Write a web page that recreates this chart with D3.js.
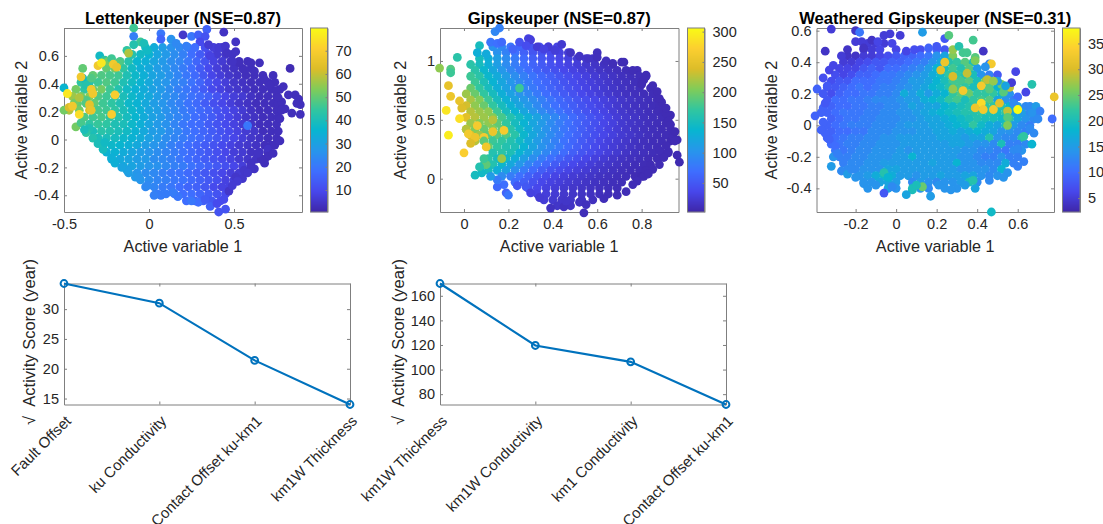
<!DOCTYPE html>
<html>
<head>
<meta charset="utf-8">
<script src="https://cdn.jsdelivr.net/npm/d3@7"></script>
<style>
  html, body { margin: 0; padding: 0; background: #fff; overflow: hidden; }
  text { font-family: "Liberation Sans", Arial, sans-serif; fill: #262626; }
</style>
</head>
<body>
<script>
// Scan rows: [y, x, score, x, score, ...]. Edge lists: [x, y, score].
var lettenRows = [
  [66, -2,38, 3,33, 8,29, 13,26, 18,24, 23,20, 33,11, 38,7, 43,5],
  [61, -10,42, -5,38, 0,35, 5,31, 10,28, 15,25, 20,22, 25,18, 30,14, 35,10, 40,6, 45,5, 49,4],
  [56, -17,47, -12,42, -7,36, -2,34, 3,31, 8,28, 13,25, 18,23, 23,20, 28,16, 33,12, 38,8, 43,6, 48,4, 53,3],
  [51, -25,50, -20,52, -15,44, -10,38, -5,34, 0,32, 5,29, 10,27, 15,24, 20,21, 25,18, 30,14, 35,10, 40,7, 45,5, 50,4, 55,3, 60,3],
  [46, -33,50, -28,48, -23,47, -18,46, -13,41, -8,37, -3,34, 2,31, 7,29, 12,26, 17,23, 22,20, 27,17, 32,13, 37,9, 42,7, 47,5, 52,4, 57,3, 62,3, 67,3],
  [41, -40,44, -35,42, -30,46, -25,48, -20,46, -15,41, -10,38, -5,35, 0,32, 5,29, 10,27, 15,24, 20,22, 25,19, 30,16, 35,12, 40,9, 45,7, 50,5, 55,4, 60,3, 65,3, 70,3, 74,3],
  [36, -43,52, -38,44, -33,50, -28,52, -23,46, -18,42, -13,38, -8,35, -3,33, 2,30, 7,28, 12,25, 17,22, 22,20, 27,17, 32,14, 37,10, 42,8, 47,6, 52,5, 57,4, 62,3, 67,3, 72,3, 77,3],
  [31, -45,56, -40,52, -35,54, -30,48, -25,46, -20,44, -15,40, -10,37, -5,34, 0,32, 5,29, 10,26, 15,24, 20,21, 25,19, 30,17, 35,15, 40,12, 45,9, 50,7, 55,6, 60,4, 65,3, 70,3, 75,3],
  [26, -42,50, -37,48, -32,50, -27,46, -22,44, -17,41, -12,37, -7,35, -2,32, 3,29, 8,27, 13,24, 18,22, 23,19, 28,17, 33,14, 38,11, 43,9, 48,7, 53,5, 58,4, 63,3, 68,3, 73,3, 76,3],
  [21, -47,58, -41,52, -35,62, -30,47, -25,46, -20,44, -15,40, -10,37, -5,34, 0,31, 5,29, 10,26, 15,24, 20,21, 25,19, 30,17, 35,15, 40,12, 45,10, 50,8, 55,6, 60,4, 65,3, 70,3, 75,3],
  [16, -38,48, -33,46, -28,47, -23,44, -18,42, -13,39, -8,36, -3,33, 2,30, 7,28, 12,25, 17,23, 22,21, 27,18, 32,16, 37,14, 42,11, 47,9, 52,7, 57,5, 62,4, 67,3, 72,3, 76,3],
  [11, -35,44, -30,45, -25,44, -20,41, -15,40, -10,37, -5,34, 0,31, 5,28, 10,26, 15,23, 20,20, 25,18, 30,17, 35,14, 40,12, 45,10, 50,8, 55,6, 60,4, 65,3, 70,3, 75,3],
  [6, -33,40, -28,43, -23,42, -18,40, -13,38, -8,35, -3,32, 2,29, 7,28, 12,25, 17,23, 22,20, 27,18, 32,16, 37,14, 42,12, 47,10, 52,8, 57,6, 62,5, 67,3, 72,3, 76,3],
  [1, -30,40, -25,40, -20,39, -15,37, -10,35, -5,33, 0,30, 5,28, 10,25, 15,23, 20,21, 25,19, 30,17, 35,15, 40,13, 45,11, 50,9, 55,7, 60,5, 65,4, 70,3, 75,3],
  [-4, -27,38, -22,37, -17,36, -12,34, -7,32, -2,29, 3,27, 8,25, 13,22, 18,20, 23,18, 28,16, 33,14, 38,12, 43,10, 48,8, 53,6, 58,5, 63,4, 68,3, 72,3],
  [-9, -25,35, -20,35, -15,33, -10,31, -5,29, 0,27, 5,25, 10,23, 15,21, 20,19, 25,17, 30,15, 35,13, 40,11, 45,9, 50,7, 55,6, 60,4, 65,4, 70,3],
  [-14, -22,33, -17,32, -12,31, -7,29, -2,28, 3,25, 8,24, 13,22, 18,20, 23,18, 28,16, 33,14, 38,12, 43,10, 48,8, 53,6, 58,5, 63,4, 68,3],
  [-19, -15,32, -10,31, -5,29, 0,27, 5,26, 10,24, 15,22, 20,21, 25,19, 30,17, 35,15, 40,13, 45,11, 50,9, 55,7, 60,5],
  [-24, -12,29, -7,27, -2,25, 3,24, 8,22, 13,20, 18,19, 23,17, 28,15, 33,13, 38,11, 43,9, 48,7, 53,6, 57,5],
  [-29, -5,27, 0,25, 5,23, 10,22, 15,20, 20,19, 25,17, 30,15, 35,13, 40,11, 45,8, 50,7],
  [-34, -2,24, 3,23, 8,21, 13,20, 18,18, 23,16, 28,15, 33,13, 38,10, 43,8, 47,8],
  [-39, 5,21, 10,21, 15,20, 20,18, 25,18, 30,16, 35,14, 40,12, 45,10],
  [-44, 22,18, 27,16, 32,15, 37,13, 42,11]
];
var lettenEdge = [
  [-9,80,46],[-9,74,22],[7,76,20],[20,75,5],[25,74,20],[29,75,15],[34,79,15],[33,74,12],[44,77,4],
  [-5,70,46],[-9,68,42],[7,72,16],[13,72,26],[30,70,10],[35,68,6],[51,70,4],[41,66,6],[45,67,5],[51,63,4],
  [-29,60,38],[-39,51,50],[-39,44,38],[53,55,3],[58,56,3],[60,55,3],[65,55,3],[73,46,3],[83,51,2],
  [86,32,3],[88,29,3],[89,25,3],[87,26,3],[80,22,3],[84,19,3],[89,18,3],[79,38,3],[82,32,3],[78,27,3],
  [70,-7,4],[70,-12,3],[68,-17,3],[62,-21,4],[60,-17,4],[56,-22,5],[51,-27,5],[55,-28,5],[47,-37,5],
  [41,-52,12],[45,-50,12],[36,-48,15],[29,-45,18],[25,-44,20],[17,-41,20],[7,-40,21],[3,-40,22],
  [-43,9,52],[-35,8,41],[-33,1,42],[-20,-17,34],[-8,-27,28],
  [74,-4,3],[77,-1,3],[73,-10,3],[66,-14,3],[64,-10,4],[60,-21,4],[58,-24,5],[52,-30,6],[49,-33,6],
  [44,-43,10],[40,-46,10],[33,-43,14],[14,-38,21],[-1,-33,24],[-6,-27,27],[-13,-22,30],[-16,-20,31],
  [-22,-13,34],[-27,-7,39],[-30,-3,40],[-26,-2,38],[-37,5,44],[-40,12,47],[-38,7,40],[-44,26,52],
  [-37,28,48],[-26,57,44],[-24,56,52],[-22,58,46],[-18,55,48],[-34,44,48],[-37,39,42],[62,49,3],
  [68,43,3],[71,39,3],[75,35,3],[76,30,3],[78,21,3],[77,15,3],[-13,64,44],[-3,69,40],[-1,64,38],
  [16,69,24],[22,67,22],[27,66,18],[36,60,8],[46,62,4],[49,56,4],[56,50,3],[58,10,20],
  [-50,37,36],[-50,21,52],[-47,23,62],[-41,30,58],[-12,62,58],
  [-30,53,68],[-21,54,68],[-19,52,66],[-40,45,68],[-34,36,68],[-33,33,68],[-20,32,70],[-35,25,65],
  [-34,21,66],[-22,18,70],[-45,24,68],[-41,18,74],[-48,33,76],[-28,55,76]
];

var gipsRows = [
  [112, 13,100, 17,90, 21,75, 25,62, 30,48, 34,42, 38,36, 42,32],
  [107, 15,100, 19,85, 23,70, 27,58, 31,48, 35,42, 39,36, 43,30, 47,25],
  [102, 7,150, 11,130, 15,112, 19,95, 23,80, 27,66, 31,56, 35,48, 39,40, 43,34, 47,29, 51,24, 55,20, 58,16],
  [97, 3,165, 7,150, 11,130, 15,112, 19,95, 23,82, 27,70, 31,60, 35,52, 39,44, 43,37, 47,31, 51,26, 55,21, 59,17, 63,14, 67,11],
  [92, 5,165, 9,140, 13,122, 17,105, 21,90, 25,78, 29,68, 33,58, 37,50, 41,43, 45,36, 49,31, 53,26, 57,21, 61,17, 65,14, 69,12, 73,10, 78,9],
  [87, 3,175, 7,165, 11,140, 15,125, 19,110, 23,96, 27,84, 31,74, 35,64, 39,56, 43,48, 47,41, 51,35, 55,29, 59,24, 63,20, 67,16, 71,13, 75,11, 79,10, 82,8],
  [82, 5,175, 9,155, 13,135, 17,120, 21,105, 25,92, 29,80, 33,70, 37,62, 41,54, 45,46, 49,39, 53,33, 57,28, 61,23, 65,19, 69,15, 73,13, 77,11, 80,9],
  [77, 3,195, 7,170, 11,150, 15,130, 19,115, 23,100, 27,90, 31,78, 35,68, 39,60, 43,52, 47,45, 51,38, 55,32, 59,27, 63,22, 67,18, 71,15, 75,12, 79,11, 84,9],
  [72, 1,215, 5,195, 9,170, 13,150, 17,130, 21,115, 25,102, 29,90, 33,78, 37,68, 41,60, 45,52, 49,44, 53,37, 57,31, 61,26, 65,21, 69,17, 73,14, 77,12, 81,10, 85,9],
  [67, 3,220, 7,205, 11,175, 15,150, 19,132, 23,118, 27,106, 31,95, 35,84, 39,74, 43,64, 47,56, 51,48, 55,41, 59,35, 63,29, 67,24, 71,19, 75,16, 79,13, 83,11, 87,9],
  [62, 1,235, 5,210, 9,195, 13,170, 17,150, 21,132, 25,118, 29,105, 33,92, 37,80, 41,70, 45,62, 49,54, 53,46, 57,39, 61,33, 65,27, 69,21, 73,17, 77,14, 81,12, 85,10, 88,9],
  [57, 3,225, 7,215, 11,210, 15,175, 19,150, 23,135, 27,120, 31,106, 35,92, 39,82, 43,72, 47,62, 51,53, 55,45, 59,38, 63,32, 67,25, 71,20, 75,16, 79,14, 83,11, 87,9, 90,8],
  [52, 1,245, 5,225, 9,215, 13,205, 17,180, 21,160, 25,145, 29,130, 33,116, 37,102, 41,90, 45,78, 49,66, 53,56, 57,47, 61,39, 65,32, 69,25, 73,20, 77,17, 81,13, 85,11, 89,9],
  [47, 3,215, 7,205, 11,210, 15,190, 19,170, 23,150, 27,135, 31,120, 35,108, 39,94, 43,82, 47,71, 51,60, 55,51, 59,43, 63,35, 67,29, 71,22, 75,18, 79,15, 83,12, 87,10, 91,8],
  [42, 1,215, 5,205, 9,195, 13,205, 17,190, 21,165, 25,145, 29,128, 33,114, 37,100, 41,88, 45,76, 49,65, 53,55, 57,46, 61,38, 65,31, 69,25, 73,20, 77,16, 81,13, 85,11, 89,9, 93,8],
  [37, 3,240, 7,215, 11,190, 15,190, 19,185, 23,165, 27,140, 31,122, 35,108, 39,94, 43,82, 47,70, 51,60, 55,50, 59,42, 63,35, 67,29, 71,23, 75,19, 79,15, 83,12, 87,10, 91,9],
  [32, 5,225, 9,190, 13,175, 17,170, 21,160, 25,145, 29,125, 33,110, 37,96, 41,84, 45,72, 49,62, 53,52, 57,43, 61,35, 65,29, 69,24, 73,19, 77,15, 81,12, 85,10, 89,9, 93,7],
  [27, 11,195, 15,170, 19,160, 23,155, 27,135, 31,118, 35,102, 39,90, 43,78, 47,66, 51,56, 55,47, 59,38, 63,31, 67,25, 71,20, 75,16, 79,13, 83,11, 87,9],
  [22, 13,160, 17,165, 21,155, 25,135, 29,120, 33,104, 37,90, 41,78, 45,67, 49,56, 53,48, 57,40, 61,33, 65,27, 69,22, 73,17, 77,14, 81,12, 85,10, 89,8, 92,7],
  [17, 11,165, 15,150, 19,145, 23,130, 27,112, 31,96, 35,82, 39,70, 43,60, 47,50, 51,42, 55,35, 59,29, 63,24, 67,19, 71,16, 75,13, 79,11, 83,9, 87,8],
  [12, 9,170, 13,160, 17,140, 21,122, 25,105, 29,88, 33,75, 37,63, 41,53, 45,44, 49,37, 53,31, 57,26, 61,21, 65,18, 69,15, 73,12, 77,10, 81,9, 84,8],
  [7, 11,150, 15,130, 19,115, 23,96, 27,80, 31,66, 35,55, 39,46, 43,39, 47,33, 51,28, 55,24, 59,20, 63,17, 67,14, 71,12, 75,10, 79,9, 82,8],
  [2, 17,95, 21,82, 25,70, 29,58, 33,47, 37,39, 41,33, 45,28, 49,24, 53,21, 57,18, 61,15, 65,13, 69,11, 73,10, 77,8, 80,7],
  [-3, 23,68, 27,56, 31,44, 35,36, 39,31, 43,27, 47,23, 51,20, 55,17, 59,15, 63,13, 67,11, 71,10],
  [-8, 29,42, 33,36, 37,30, 41,26, 45,22, 49,19, 53,17, 57,15, 61,13, 65,11, 69,10],
  [-13, 33,32, 37,27, 41,24, 45,20, 49,18, 53,16, 57,14, 61,12, 65,10],
  [-18, 36,25, 40,22, 44,19, 48,18, 53,15, 58,13],
  [-23, 42,18, 48,16]
];
var gipsEdge = [
  [14,125,90],[16,128,85],[12,116,75],[15,115,70],[17,116,65],[25,116,45],[29,119,30],[30,118,28],[28,113,40],
  [33,112,25],[38,112,24],[44,114,22],[7,113,150],[6,107,130],[-3,103,165],[48,107,15],[60,107,12],[60,103,12],
  [71,99,8],[72,99,8],[81,84,8],[-6,93,185],[-11,94,210],[-6,90,175],[-7,79,250],[-6,70,255],[-2,66,250],
  [-1,60,240],[-8,58,290],[-2,51,285],[1,42,225],[-7,37,295],[0,22,270],[2,38,262],[5,35,255],[9,35,265],
  [9,32,190],[5,3,150],[10,12,190],[17,17,215],[13,50,225],[18,41,265],[6,45,265],[10,27,260],[25,77,175],
  [89,65,8],[93,54,8],[91,55,8],[96,33,7],[94,36,8],[95,32,8],[96,20,7],[97,14,6],[92,23,8],[88,24,9],
  [81,2,8],[78,-2,9],[73,-11,9],[18,-5,70],[15,-7,65],[19,-12,60],[20,-14,75],[28,-7,50],
  [39,-25,14],[45,-24,14],[54,-29,10],[46,-19,18],[52,-20,14],[3,30,240],[13,40,255],
  [10,106,125],[22,110,60],[36,110,30],[41,109,26],[52,104,16],[56,102,16],[64,100,12],[67,98,10],
  [76,92,9],[82,88,8],[80,80,8],[85,79,8],[87,74,8],[88,68,8],[91,60,8],[92,49,8],[93,46,8],
  [95,40,7],[91,28,8],[90,18,8],[88,12,8],[85,8,8],[83,4,8],[76,-5,9],[69,-14,9],[63,-17,10],
  [55,-22,12],[34,-16,24],[30,-12,30],[24,-6,50],[15,-1,80],[12,2,110],[8,5,145],[7,10,160],[9,17,175]
];

var weatherRows = [
  [52, -14,5, -10,5, -6,5, -2,6],
  [48, -16,5, -12,5, -8,6, 0,6, 12,7, 20,9, 24,8],
  [44, -24,4, -20,4, -16,5, -12,5, -8,6, -4,7, 0,8, 4,9, 8,9, 12,10, 16,11, 20,14, 24,16, 28,26],
  [40, -26,5, -22,5, -18,6, -14,7, -10,8, -6,8, -2,9, 2,9, 6,10, 10,11, 14,12, 18,14, 22,16, 26,21, 30,22, 34,24, 38,20],
  [36, -28,6, -24,6, -20,6, -16,8, -12,9, -8,8, -4,10, 0,10, 4,11, 8,12, 12,13, 16,15, 20,18, 24,20, 28,23, 32,21, 36,24, 40,15],
  [32, -30,7, -26,6, -22,7, -18,9, -14,9, -10,10, -6,11, -2,11, 2,12, 6,13, 10,14, 14,15, 18,17, 22,19, 26,22, 30,22, 34,21, 38,20, 42,14, 46,12],
  [28, -32,7, -28,8, -24,8, -20,10, -16,10, -12,10, -8,11, -4,11, 0,12, 4,13, 8,15, 12,15, 16,16, 20,18, 24,20, 28,23, 32,23, 36,24, 40,20, 44,26, 48,15],
  [24, -34,8, -30,8, -26,9, -22,10, -18,11, -14,10, -10,11, -6,12, -2,12, 2,13, 6,14, 10,15, 14,16, 18,18, 22,19, 26,21, 30,23, 34,22, 38,20, 42,20, 46,24, 50,18],
  [20, -32,7, -28,9, -24,10, -20,10, -16,11, -12,11, -8,12, -4,12, 0,13, 4,17, 8,15, 12,17, 16,15, 20,17, 24,18, 28,22, 32,24, 36,25, 40,22, 44,22, 48,22, 52,19, 56,14],
  [16, -34,8, -30,10, -26,10, -22,11, -18,11, -14,12, -10,13, -6,13, -2,13, 2,14, 6,15, 10,15, 14,17, 18,18, 22,19, 26,22, 30,23, 34,20, 38,22, 42,23, 46,24, 50,16, 54,14, 58,12],
  [12, -32,9, -28,10, -24,10, -20,11, -16,11, -12,12, -8,12, -4,13, 0,13, 4,14, 8,16, 12,15, 16,16, 20,16, 24,18, 28,19, 32,20, 36,21, 40,22, 44,22, 48,22, 52,21, 56,18, 60,15, 64,13, 66,13],
  [8, -34,9, -30,10, -26,11, -22,11, -18,11, -14,12, -10,12, -6,13, -2,13, 2,14, 6,14, 10,15, 14,16, 18,17, 22,18, 26,19, 30,20, 34,21, 38,21, 42,22, 46,21, 50,20, 54,22, 58,16, 62,14, 66,13, 69,13],
  [4, -32,9, -28,10, -24,11, -20,11, -16,12, -12,12, -8,13, -4,13, 0,13, 4,14, 8,14, 12,15, 16,16, 20,16, 24,17, 28,18, 32,19, 36,20, 40,21, 44,20, 48,20, 52,19, 56,22, 60,16, 64,14, 68,13],
  [0, -34,9, -30,10, -26,11, -22,12, -18,12, -14,12, -10,13, -6,13, -2,13, 2,14, 6,15, 10,15, 14,15, 18,16, 22,16, 26,17, 30,18, 34,19, 38,22, 42,19, 46,17, 50,16, 54,20, 58,15, 62,13, 66,12],
  [-4, -32,9, -28,10, -24,10, -20,11, -16,11, -12,13, -8,13, -4,13, 0,14, 4,14, 8,14, 12,15, 16,15, 20,16, 24,16, 28,17, 32,16, 36,17, 40,18, 44,17, 48,16, 52,14, 56,14, 60,13, 64,12],
  [-8, -34,9, -30,10, -26,11, -22,12, -18,12, -14,13, -10,13, -6,14, -2,14, 2,15, 6,15, 10,15, 14,15, 18,15, 22,16, 26,16, 30,16, 34,15, 38,16, 42,16, 46,21, 50,14, 54,13, 58,13, 62,21],
  [-12, -32,10, -28,11, -24,12, -20,12, -16,13, -12,13, -8,14, -4,14, 0,14, 4,15, 8,15, 12,15, 16,15, 20,15, 24,15, 28,16, 32,16, 36,15, 40,14, 44,14, 48,13, 52,20, 56,12, 60,12, 64,13],
  [-16, -30,11, -26,11, -22,12, -18,13, -14,13, -10,14, -6,14, -2,14, 2,15, 6,14, 10,15, 14,15, 18,15, 22,15, 26,15, 30,15, 34,14, 38,14, 42,13, 46,13, 50,12, 54,11, 58,13, 62,14],
  [-20, -28,12, -24,12, -20,13, -16,13, -12,14, -8,14, -4,14, 0,15, 4,15, 8,18, 12,15, 16,15, 20,15, 24,15, 28,15, 32,14, 36,14, 40,13, 44,12, 48,12, 52,14, 56,12, 60,12],
  [-24, -26,12, -22,13, -18,13, -14,14, -10,14, -6,15, -2,15, 2,15, 6,15, 10,15, 14,15, 18,16, 22,15, 26,15, 30,18, 34,14, 38,14, 42,13, 46,13, 50,13, 54,17, 58,12],
  [-28, -24,13, -20,13, -16,14, -12,14, -8,14, -4,16, 0,16, 4,15, 8,15, 12,15, 16,15, 20,15, 24,15, 28,15, 32,14, 36,14, 40,14, 44,14, 48,13, 52,18],
  [-32, -18,14, -14,15, -10,17, -6,19, -2,17, 2,15, 6,15, 10,14, 14,15, 18,15, 22,16, 26,15, 30,15, 34,16, 38,16, 42,14, 46,13, 50,14],
  [-36, -16,14, -12,14, -8,16, -4,16, 0,15, 8,13, 12,15, 16,14, 20,13, 24,14, 28,14, 32,15, 36,20, 40,13],
  [-40, -4,16, 0,14, 8,20, 12,14, 16,13, 24,14, 30,14]
];
var weatherEdge = [
  [-32,61,5],[-20,60,4],[-18,59,11],[13,59,15],[-20,53,5],[-17,53,5],[-12,54,4],[-9,53,6],[-6,57,5],[-3,58,5],
  [2,57,5],[24,55,8],[26,57,24],[38,54,23],[-35,47,4],[43,47,4],[28,48,27],[31,50,21],[33,46,23],[35,46,23],
  [39,43,24],[39,41,26],[46,39,12],[47,39,33],[-33,35,6],[59,34,6],[50,32,8],[-39,23,9],[-34,25,8],[52,26,25],
  [56,24,29],[67,26,21],[57,27,5],[64,21,6],[53,21,24],[60,18,10],[78,18,32],[-36,11,9],[69,12,15],[71,9,12],
  [67,8,14],[-40,6,9],[77,4,10],[-35,-5,9],[-33,-9,9],[68,-5,13],[67,-12,18],[63,-7,22],[-31,-20,14],[-32,-26,15],
  [63,-23,12],[-27,-29,13],[-24,-31,15],[55,-30,14],[-20,-33,14],[-16,-37,14],[-6,-43,8],[-2,-39,13],[8,-41,20],
  [13,-39,25],[17,-45,15],[39,-40,16],[38,-35,21],[47,-55,19],[-6,-30,21],[-4,-33,18],[10,-38,20],[21,-38,14],
  [-24,48,4],[-16,49,4],[5,47,6],[9,48,7],[16,49,9],[20,50,8],[-27,44,5],[-31,38,6],[-36,30,7],[-36,20,8],
  [-35,14,8],[-37,8,9],[-36,2,9],[-37,-3,9],[-30,-13,10],[-29,-18,12],[-26,-22,12],[-22,-28,13],[-14,-40,14],
  [44,37,14],[50,28,15],[54,25,16],[58,14,13],[62,8,15],[70,4,13],[66,-2,13],[60,-15,13],[60,-26,12],[53,-33,14],
  [46,-35,13],[34,-38,15],[27,-41,14],[5,-44,16],[-10,-38,14],
  [22,35,31],[24,40,32],[28,31,30],[33,22,33],[42,25,33],[45,29,29],[48,28,27],[46,23,24],[51,14,31],
  [42,14,35],[39,11,32],[43,10,33],[48,10,33],[60,10,38],[55,9,29],[28,23,27],[35,33,29],[55,5,24],[55,0,26]
];

// Line panels
var lettenParams = ["Fault Offset", "ku Conductivity", "Contact Offset ku-km1", "km1W Thickness"];
var lettenScores = [34.3, 31, 21.4, 14];
var gipsParams = ["km1W Thickness", "km1W Conductivity", "km1 Conductivity", "Contact Offset ku-km1"];
var gipsScores = [170, 119.6, 106.3, 71.6];

// MATLAB parula, sampled
var parula = ["#3e26a8","#4747eb","#3e6fff","#2796eb","#08b5d0","#31c69f","#80cc59","#dcbd29","#fccf30","#f9fb15"];

var boxColor = "#7f7f7f";

var svg = d3.select("body").append("svg")
    .attr("width", 1103)
    .attr("height", 524)
    .attr("viewBox", "0 0 1103 524");

function styleAxis(g) {
    g.selectAll("path").attr("stroke", boxColor).attr("stroke-width", 1);
    g.selectAll("line").attr("stroke", boxColor).attr("stroke-width", 1);
    g.selectAll("text").attr("font-size", 14.5).attr("fill", "#404040");
}

// box with inward ticks on all four sides
function drawBox(x, y, xTicks, yTicks, xFmt, yFmt) {
    var r = x.range(), t = y.range();
    svg.append("g").attr("transform", "translate(0," + t[0] + ")")
        .call(d3.axisBottom(x).tickValues(xTicks).tickSizeInner(-3).tickSizeOuter(0).tickPadding(7).tickFormat(xFmt))
        .call(styleAxis);
    svg.append("g").attr("transform", "translate(0," + t[1] + ")")
        .call(d3.axisTop(x).tickValues(xTicks).tickSizeInner(-3).tickSizeOuter(0).tickFormat(""))
        .call(styleAxis);
    svg.append("g").attr("transform", "translate(" + r[0] + ",0)")
        .call(d3.axisLeft(y).tickValues(yTicks).tickSizeInner(-3).tickSizeOuter(0).tickPadding(5).tickFormat(yFmt))
        .call(styleAxis);
    svg.append("g").attr("transform", "translate(" + r[1] + ",0)")
        .call(d3.axisRight(y).tickValues(yTicks).tickSizeInner(-3).tickSizeOuter(0).tickFormat(""))
        .call(styleAxis);
}

function rowsToPoints(rows, edge) {
    var pts = [];
    rows.forEach(function(row) {
        for (var i = 1; i < row.length; i += 2) pts.push([row[i], row[0], row[i + 1]]);
    });
    return pts.concat(edge);
}

function drawScatter(p) {
    var x = d3.scaleLinear().domain(p.xDomain).range([p.left, p.right]);
    var y = d3.scaleLinear().domain(p.yDomain).range([212, 28]);
    var color = d3.scaleLinear()
        .domain(d3.range(parula.length).map(function(i) {
            return p.cDomain[0] + (p.cDomain[1] - p.cDomain[0]) * i / (parula.length - 1);
        }))
        .range(parula);

    drawBox(x, y, p.xTicks, p.yTicks, String, String);

    svg.append("g").selectAll("circle")
        .data(p.points)
        .enter().append("circle")
        .attr("cx", function(d) { return x(d[0] / 100); })
        .attr("cy", function(d) { return y(d[1] / 100); })
        .attr("r", 4.4)
        .attr("fill", function(d) { return color(d[2]); });

    svg.append("text").attr("x", (p.left + p.right) / 2).attr("y", 23.5)
        .attr("text-anchor", "middle").attr("font-weight", "bold").attr("font-size", 16.6)
        .style("fill", "#000").text(p.title);
    svg.append("text").attr("x", (p.left + p.right) / 2).attr("y", 252)
        .attr("text-anchor", "middle").attr("font-size", 16.2).text("Active variable 1");
    svg.append("text").attr("transform", "translate(" + p.yLabelX + ",120) rotate(-90)")
        .attr("text-anchor", "middle").attr("font-size", 16.2).text("Active variable 2");

    // colorbar
    var cb = d3.scaleLinear().domain(p.cDomain).range([212, 28]);
    var barW = p.barRight - p.barLeft;
    svg.append("g").selectAll("rect")
        .data(d3.range(184))
        .enter().append("rect")
        .attr("x", p.barLeft)
        .attr("y", function(d) { return 28 + d; })
        .attr("width", barW)
        .attr("height", 1.2)
        .attr("fill", function(d) { return color(cb.invert(28 + d + 0.5)); });
    svg.append("rect").attr("x", p.barLeft).attr("y", 28).attr("width", barW).attr("height", 184)
        .attr("fill", "none").attr("stroke", boxColor);
    svg.append("g").attr("transform", "translate(" + p.barRight + ",0)")
        .call(d3.axisRight(cb).tickValues(p.cTicks).tickSizeInner(-2).tickSizeOuter(0).tickPadding(8))
        .call(styleAxis);
}

function drawLine(p) {
    var top = 283.5, bottom = 404.5;
    var x = d3.scalePoint().domain(p.names).range([p.left, p.right]);
    var y = d3.scaleLinear().domain(p.yDomain).range([bottom, top]);

    drawBox(x, y, p.names, p.yTicks, "", String);

    svg.append("path")
        .datum(p.scores)
        .attr("fill", "none")
        .attr("stroke", "#0072bd")
        .attr("stroke-width", 2.2)
        .attr("d", d3.line()
            .x(function(d, i) { return x(p.names[i]); })
            .y(function(d) { return y(d); }));
    svg.append("g").selectAll("circle")
        .data(p.scores)
        .enter().append("circle")
        .attr("cx", function(d, i) { return x(p.names[i]); })
        .attr("cy", function(d) { return y(d); })
        .attr("r", 3.4)
        .attr("fill", "none")
        .attr("stroke", "#0072bd")
        .attr("stroke-width", 2);

    svg.append("g").selectAll("text")
        .data(p.names)
        .enter().append("text")
        .attr("transform", function(d) { return "translate(" + (x(d) + 8) + ",422) rotate(-45)"; })
        .attr("text-anchor", "end")
        .attr("font-size", 15)
        .attr("fill", "#404040")
        .text(function(d) { return d; });

    svg.append("text").attr("transform", "translate(" + p.yLabelX + ",342) rotate(-90)")
        .attr("text-anchor", "middle").attr("font-size", 16.5)
        .text("\u221A\u00A0\u00A0Activity Score (year)");
}

drawScatter({
    title: "Lettenkeuper (NSE=0.87)", left: 64, right: 302, yLabelX: 27,
    xDomain: [-0.5, 0.9], yDomain: [-0.52, 0.8], cDomain: [0.5, 79.8],
    xTicks: [-0.5, 0, 0.5], yTicks: [-0.4, -0.2, 0, 0.2, 0.4, 0.6],
    cTicks: [10, 20, 30, 40, 50, 60, 70],
    barLeft: 310.5, barRight: 327.5,
    points: rowsToPoints(lettenRows, lettenEdge)
});
drawScatter({
    title: "Gipskeuper (NSE=0.87)", left: 440, right: 678.5, yLabelX: 406,
    xDomain: [-0.108, 0.966], yDomain: [-0.283, 1.28], cDomain: [2, 306],
    xTicks: [0, 0.2, 0.4, 0.6, 0.8], yTicks: [0, 0.5, 1],
    cTicks: [50, 100, 150, 200, 250, 300],
    barLeft: 687.5, barRight: 704.5,
    points: rowsToPoints(gipsRows, gipsEdge)
});
drawScatter({
    title: "Weathered Gipskeuper (NSE=0.31)", left: 816.5, right: 1054, yLabelX: 777,
    xDomain: [-0.393, 0.779], yDomain: [-0.55, 0.617], cDomain: [2.3, 38],
    xTicks: [-0.2, 0, 0.2, 0.4, 0.6], yTicks: [-0.4, -0.2, 0, 0.2, 0.4, 0.6],
    cTicks: [5, 10, 15, 20, 25, 30, 35],
    barLeft: 1062.5, barRight: 1080,
    points: rowsToPoints(weatherRows, weatherEdge)
});

drawLine({
    names: lettenParams, scores: lettenScores, left: 64, right: 350, yLabelX: 35,
    yDomain: [14, 34.3], yTicks: [15, 20, 25, 30]
});
drawLine({
    names: gipsParams, scores: gipsScores, left: 440, right: 726, yLabelX: 404,
    yDomain: [71.6, 170], yTicks: [80, 100, 120, 140, 160]
});
</script>
</body>
</html>
